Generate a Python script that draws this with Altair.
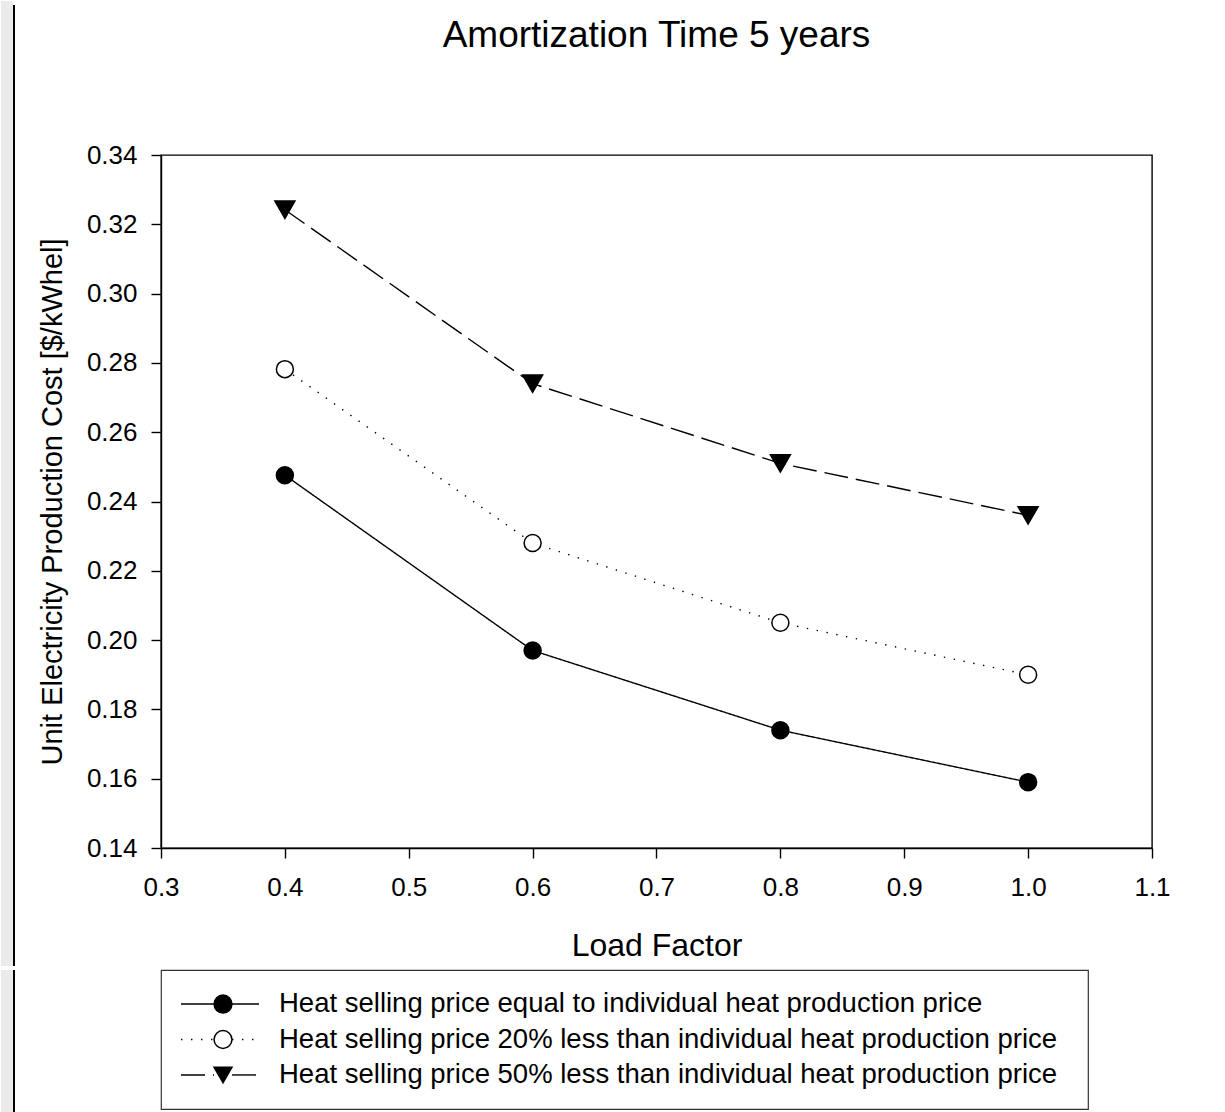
import altair as alt
import pandas as pd

FONT = "Liberation Sans"

load_factor = [0.4, 0.6, 0.8, 1.0]
series_names = [
    "Heat selling price equal to individual heat production price",
    "Heat selling price 20% less than individual heat production price",
    "Heat selling price 50% less than individual heat production price",
]
cost_equal = [0.2476, 0.197, 0.174, 0.159]
cost_less20 = [0.2782, 0.228, 0.205, 0.190]
cost_less50 = [0.3242, 0.274, 0.251, 0.236]
x_ticks = [0.3, 0.4, 0.5, 0.6, 0.7, 0.8, 0.9, 1.0, 1.1]
y_ticks = [0.14, 0.16, 0.18, 0.20, 0.22, 0.24, 0.26, 0.28, 0.30, 0.32, 0.34]

dash_range = [[1, 0], [1.4, 8.6], [24, 8]]
shape_range = ["circle", "circle", "triangle-down"]
fill_range = ["black", "white", "black"]

rows = []
for name, vals in zip(series_names, [cost_equal, cost_less20, cost_less50]):
    for lf, c in zip(load_factor, vals):
        rows.append({"LF": lf, "Cost": c, "Series": name})
df = pd.DataFrame(rows)
leg = pd.DataFrame({"Series": series_names})

dash_enc = alt.StrokeDash("Series:N", scale=alt.Scale(domain=series_names, range=dash_range), legend=None)
shape_enc = alt.Shape("Series:N", scale=alt.Scale(domain=series_names, range=shape_range), legend=None)
fill_enc = alt.Fill("Series:N", scale=alt.Scale(domain=series_names, range=fill_range), legend=None)

x_enc = alt.X(
    "LF:Q",
    scale=alt.Scale(domain=[0.3, 1.1], nice=False, zero=False),
    axis=alt.Axis(values=x_ticks, format=".1f", title="Load Factor",
                  labelPadding=16, titlePadding=30, titleFontSize=32),
)
y_enc = alt.Y(
    "Cost:Q",
    scale=alt.Scale(domain=[0.14, 0.34], nice=False, zero=False),
    axis=alt.Axis(values=y_ticks, format=".2f",
                  title="Unit Electricity Production Cost [$/kWhel]",
                  labelPadding=14, titlePadding=19, titleFontSize=29),
)

lines = alt.Chart(df).mark_line(color="black", strokeWidth=1.4).encode(
    x=x_enc, y=y_enc, strokeDash=dash_enc
)
points = alt.Chart(df).mark_point(
    filled=True, stroke="black", strokeWidth=1.5, opacity=1
).encode(
    x=x_enc, y=y_enc, shape=shape_enc, fill=fill_enc,
    size=alt.condition(alt.datum.Series == series_names[2], alt.value(400), alt.value(289)),
)

deco = pd.DataFrame({"k": [0]})
strip = alt.Chart(deco).mark_rect(color="#ebebeb").encode(
    x=alt.value(-160), x2=alt.value(-148), y=alt.value(-154), y2=alt.value(811)
)
edge = alt.Chart(deco).mark_rule(color="black", strokeWidth=2).encode(
    x=alt.value(-147), y=alt.value(-150), y2=alt.value(811)
)

main = alt.layer(strip, edge, lines, points).properties(
    width=991,
    height=693,
    title=alt.Title("Amortization Time 5 years", font=FONT, fontSize=37,
                    fontWeight="normal", color="black", anchor="middle",
                    frame="group", offset=-54),
)

# legend panel
ly = alt.Y("Series:N", sort=series_names, axis=None,
           scale=alt.Scale(type="point", padding=0.96))
leg_left = alt.Chart(leg).mark_rule(color="black", strokeWidth=1.4).encode(
    x=alt.value(20), x2=alt.value(53), y=ly, strokeDash=dash_enc
)
leg_right = alt.Chart(leg).mark_rule(color="black", strokeWidth=1.4).encode(
    x=alt.value(71), x2=alt.value(98), y=ly, strokeDash=dash_enc
)
leg_pts = alt.Chart(leg).mark_point(
    filled=True, stroke="black", strokeWidth=1.5, opacity=1, size=320
).encode(x=alt.value(62), y=ly, shape=shape_enc, fill=fill_enc)
leg_txt = alt.Chart(leg).mark_text(
    align="left", baseline="middle", font=FONT, fontSize=27.5, color="black"
).encode(x=alt.value(118), y=ly, text="Series:N")
strip2 = alt.Chart(deco).mark_rect(color="#ebebeb").encode(
    x=alt.value(-160), x2=alt.value(-148), y=alt.value(0), y2=alt.value(142)
)
edge2 = alt.Chart(deco).mark_rule(color="black", strokeWidth=2).encode(
    x=alt.value(-147), y=alt.value(0), y2=alt.value(142)
)
legend_panel = alt.layer(strip2, edge2, leg_left, leg_right, leg_pts, leg_txt).properties(
    width=927, height=139,
    view=alt.ViewBackground(stroke="#333333", strokeWidth=1.2, fill="white"),
)

chart = alt.vconcat(main, legend_panel, spacing=0).resolve_scale(
    x="independent", y="independent", strokeDash="independent",
    shape="independent", fill="independent",
).properties(
    padding={"left": 0, "top": 0, "right": 0, "bottom": 0},
    background="white",
).configure_view(
    stroke="black", strokeWidth=1.4
).configure_axis(
    grid=False, domainColor="black", domainWidth=1.4, tickColor="black",
    tickWidth=1.4, tickSize=10, labelFont=FONT, labelFontSize=26,
    labelColor="black", titleFont=FONT, titleFontWeight="normal",
    titleColor="black", labelFlush=False, labelOverlap=False,
)

chart.save("out.html", embed_options={"renderer": "svg", "actions": False})
